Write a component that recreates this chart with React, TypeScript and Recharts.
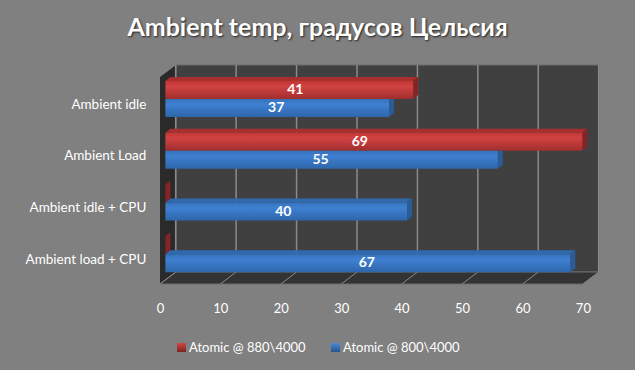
import React from 'react'
import { BarChart, Bar, XAxis, YAxis, CartesianGrid, LabelList, Legend } from 'recharts'

const categories = ['Ambient idle', 'Ambient Load', 'Ambient idle + CPU', 'Ambient load + CPU']
const atomic880 = [41, 69, 0, 0]
const atomic800 = [37, 55, 40, 67]
const xTicks = [0, 10, 20, 30, 40, 50, 60, 70]
const seriesNames = ['Atomic @ 880\\4000', 'Atomic @ 800\\4000']

// the original labels are not centred on the bars, so nudge them by value
const labelShift: Record<number, number> = { 41: 6, 37: -1, 69: -14, 55: -11, 40: -3, 67: -1 }

const data = categories.map((name, i) => ({ name, red: atomic880[i], blue: atomic800[i] }))

const FONT = 'Lato, sans-serif'
const DX = 5
const DY = 4

const tones: any = {
	red: { front: 'url(#redFront)', top: '#a92f2f', side: '#842424' },
	blue: { front: 'url(#blueFront)', top: '#2f69ae', side: '#2a5c98' },
}

// fake 3d bar: front face, top and right side
const Bar3D = (props: any) => {
	const { x, y, width, height, tone, payload } = props
	const c = tones[tone]
	const hideTop = tone === 'blue' && payload.red > 0
	const r = x + width
	return (
		<g>
			{!hideTop && (
				<polygon
					points={`${x},${y} ${x + DX},${y - DY} ${r + DX},${y - DY} ${r},${y}`}
					fill={c.top}
				/>
			)}
			<polygon
				points={
					hideTop
						? `${r},${y} ${r + DX},${y} ${r + DX},${y + height - DY} ${r},${y + height}`
						: `${r},${y} ${r + DX},${y - DY} ${r + DX},${y + height - DY} ${r},${y + height}`
				}
				fill={c.side}
			/>
			{width > 0 && <rect x={x} y={y} width={width} height={height} fill={c.front} />}
		</g>
	)
}

// gridlines sit on the back wall, with a diagonal across the floor
const GridLine = (props: any) => {
	const { x1 } = props
	return (
		<g stroke="#8a8a8a" fill="none">
			<line x1={x1 + 10.3} x2={x1 + 10.3} y1={65} y2={272} strokeWidth={1.5} />
			<line x1={x1 + 10.3} x2={x1 - 5.4} y1={272} y2={284} strokeWidth={1} />
		</g>
	)
}

const BarLabel = (props: any) => {
	const { x, y, width, height, value } = props
	if (!value) return null
	return (
		<text
			x={x + width / 2 + labelShift[value]}
			y={y + height / 2 + 4}
			textAnchor="middle"
			fill="#ffffff"
			fontFamily={FONT}
			fontWeight={700}
			fontSize={14}
		>
			{value}
		</text>
	)
}

const LegendRow = () => (
	<div style={{ position: 'relative', width: 300, height: 20, fontFamily: FONT, fontSize: 13, color: '#fff' }}>
		{seriesNames.map((name, i) => (
			<div key={name} style={{ position: 'absolute', left: i * 154, top: 0, display: 'flex', alignItems: 'center', height: 20 }}>
				<span
					style={{
						width: 9,
						height: 9,
						marginRight: 3,
						background: i === 0
							? 'linear-gradient(#d04545, #7d2222)'
							: 'linear-gradient(#4a8ad8, #25548c)',
					}}
				/>
				<span style={{ whiteSpace: 'nowrap' }}>{name}</span>
			</div>
		))}
	</div>
)

const App = () => {
	return (
		<div style={{ position: 'absolute', left: 0, top: 0, width: 635, height: 370, background: '#808080', overflow: 'hidden' }}>
			<svg width={635} height={370} style={{ position: 'absolute', left: 0, top: 0 }}>
				<defs>
					<linearGradient id="redFront" x1="0" y1="0" x2="0" y2="1">
						<stop offset="0" stopColor="#c23636" />
						<stop offset="0.3" stopColor="#d24242" />
						<stop offset="1" stopColor="#a02e2e" />
					</linearGradient>
					<linearGradient id="blueFront" x1="0" y1="0" x2="0" y2="1">
						<stop offset="0" stopColor="#3672bb" />
						<stop offset="0.3" stopColor="#3f80d2" />
						<stop offset="1" stopColor="#2e66aa" />
					</linearGradient>
				</defs>
				{/* back wall, left wall and floor */}
				<polygon points="176,65 599,65 599,272 176,272" fill="#404040" stroke="#6c6c6c" />
				<polygon points="160,77 176,65 176,272 160,284" fill="#2a2a2a" />
				<polygon points="160,284 176,272 599,272 583,284" fill="#333333" stroke="#6c6c6c" />
			</svg>
			<div
				style={{
					position: 'absolute',
					left: 0,
					top: 11,
					width: 635,
					textAlign: 'center',
					fontFamily: FONT,
					fontWeight: 700,
					fontSize: 25,
					color: '#fff',
					textShadow: '1px 1px 2px #222',
				}}
			>
				Ambient temp, градусов Цельсия
			</div>
			<div style={{ position: 'absolute', left: 0, top: 0 }}>
				<BarChart
					width={635}
					height={370}
					data={data}
					layout="vertical"
					barSize={18}
					barGap={0}
					margin={{ top: 73, right: 46.6, bottom: 40, left: 15.4 }}
				>
					<CartesianGrid horizontal={false} vertical={GridLine as any} />
					<XAxis
						type="number"
						domain={[0, 70]}
						ticks={xTicks}
						interval={0}
						axisLine={false}
						tickLine={false}
						height={30}
						tickMargin={18}
						tick={{ fill: '#fff', fontSize: 13, fontFamily: FONT, dx: -5 }}
					/>
					<YAxis
						type="category"
						dataKey="name"
						width={150}
						axisLine={false}
						tickLine={false}
						tickMargin={13}
						tick={{ fill: '#fff', fontSize: 13.5, fontFamily: FONT, dy: 5 }}
					/>
					<Bar dataKey="red" isAnimationActive={false} shape={<Bar3D tone="red" />}>
						<LabelList dataKey="red" content={BarLabel as any} />
					</Bar>
					<Bar dataKey="blue" isAnimationActive={false} shape={<Bar3D tone="blue" />}>
						<LabelList dataKey="blue" content={BarLabel as any} />
					</Bar>
					<Legend
						content={<LegendRow />}
						wrapperStyle={{ position: 'absolute', left: 177, top: 337, width: 300 }}
					/>
				</BarChart>
			</div>
		</div>
	)
}

export default App
